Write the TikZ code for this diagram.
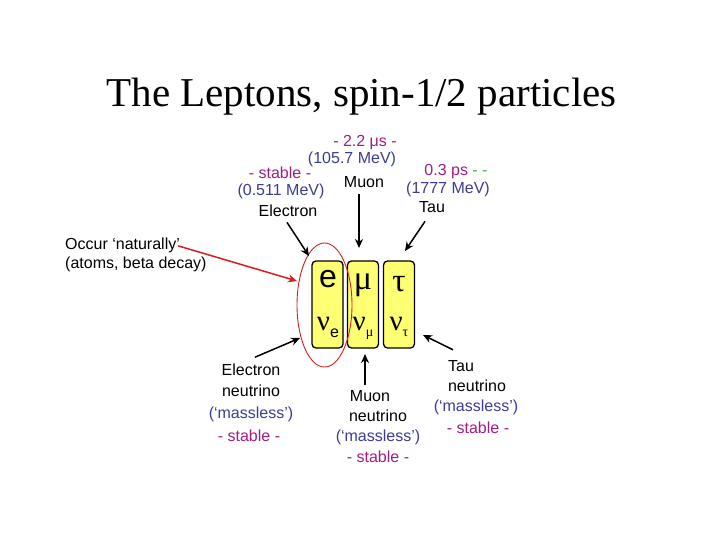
\documentclass[tikz,border=0pt]{standalone}
\usepackage{fontspec}
\setmainfont{Liberation Serif}
\setsansfont{Liberation Sans}
\usetikzlibrary{arrows.meta}
\definecolor{lifetime}{RGB}{160,30,130}
\definecolor{massblue}{RGB}{60,60,150}
\definecolor{dashgreen}{RGB}{70,170,70}
\definecolor{boxyellow}{RGB}{255,255,115}
\definecolor{natred}{RGB}{215,30,30}

\begin{document}
\begin{tikzpicture}[x=1pt,y=-1pt,
    lbl/.style={font=\sffamily\fontsize{16}{16}\selectfont, inner sep=0pt, anchor=base},
    lbllife/.style={lbl, text=lifetime},
    lblmass/.style={lbl, text=massblue},
    leptbox/.style={draw, line width=1.3pt, fill=boxyellow, rounded corners=4pt,
      minimum width=31pt, minimum height=87pt, inner sep=0pt},
    pointer/.style={line width=1.5pt, -{Stealth[length=9pt,width=8pt]}}]
  \useasboundingbox (0,0) rectangle (720,540);
  % title
  \node[font=\fontsize{41}{41}\selectfont, inner sep=0pt, anchor=base] (title)
    at (361.5,107) {The Leptons, spin-1/2 particles};
  % the three generations
  \node[leptbox] (boxe) at (327.5,304.5) {};
  \node[leptbox] (boxmu) at (363,304.5) {};
  \node[leptbox] (boxtau) at (399,304.5) {};
  \node[font=\sffamily\fontsize{32}{32}\selectfont, inner sep=0pt, anchor=base] (el) at (328,287) {e};
  \node[font=\fontsize{34}{34}\selectfont, inner sep=0pt, anchor=base] (mu) at (363,289) {μ};
  \node[font=\fontsize{33}{33}\selectfont, inner sep=0pt, anchor=base] (tau) at (399,291) {τ};
  \node[font=\fontsize{29}{29}\selectfont, inner sep=0pt, anchor=base] (nue) at (328,330)
    {ν\raisebox{-7pt}{\sffamily\fontsize{16}{16}\selectfont e}};
  \node[font=\fontsize{29}{29}\selectfont, inner sep=0pt, anchor=base] (numu) at (363,330)
    {ν\raisebox{-6pt}{\fontsize{14}{14}\selectfont μ}};
  \node[font=\fontsize{29}{29}\selectfont, inner sep=0pt, anchor=base] (nutau) at (399,330)
    {ν\raisebox{-6pt}{\fontsize{14}{14}\selectfont τ}};
  % naturally occurring pair
  \draw[natred, line width=0.9pt] (324.5,305) ellipse (27.5 and 62);
  % charged leptons
  \node[lbllife] (elife) at (280,179) {- stable -};
  \node[lblmass] (emass) at (281,196) {(0.511 MeV)};
  \node[lbl] (ename) at (288,216) {Electron};
  \node[lbllife] (mulife) at (365,147) {- 2.2 μs -};
  \node[lblmass] (mumass) at (352,164) {(105.7 MeV)};
  \node[lbl] (muname) at (364,188) {Muon};
  \node[lbllife] (taulife) at (456,176) {0.3 ps \textcolor{dashgreen}{- -}};
  \node[lblmass] (taumass) at (448,194) {(1777 MeV)};
  \node[lbl] (tauname) at (432,213) {Tau};
  \node[lbl, anchor=base west] (occur) at (65,249) {Occur ‘naturally’};
  \node[lbl, anchor=base west] (atoms) at (65,268) {(atoms, beta decay)};
  % neutrinos
  \node[lbl] (nuename) at (251,375) {Electron};
  \node[lbl] (nuename2) at (251,396) {neutrino};
  \node[lblmass] (nuemass) at (251,418) {(‘massless’)};
  \node[lbllife] (nuelife) at (249,441) {- stable -};
  \node[lbl] (numuname) at (370,401) {Muon};
  \node[lbl] (numuname2) at (378,421) {neutrino};
  \node[lblmass] (numumass) at (378,441) {(‘massless’)};
  \node[lbllife] (numulife) at (378,462) {- stable -};
  \node[lbl] (nutauname) at (461,371) {Tau};
  \node[lbl] (nutauname2) at (477,391) {neutrino};
  \node[lblmass] (nutaumass) at (476,411) {(‘massless’)};
  \node[lbllife] (nutaulife) at (478,433) {- stable -};
  % pointers
  \coordinate (etip) at (309,256);
  \coordinate (mutip) at (359,248);
  \coordinate (tautip) at (405,251);
  \coordinate (ringtip) at (297,281);
  \coordinate (nuetip) at (300,338);
  \coordinate (numutip) at (365,354);
  \coordinate (nutautip) at (423,335);
  \draw[pointer] ([xshift=-1pt,yshift=-6pt]ename.south) -- (etip);
  \draw[pointer] ([xshift=-5pt,yshift=-6pt]muname.south) -- (mutip);
  \draw[pointer] ([xshift=-7pt,yshift=-8pt]tauname.south) -- (tautip);
  \draw[pointer, natred] ([xshift=-2pt,yshift=-1pt]occur.east) -- (ringtip);
  \draw[pointer] ([xshift=4pt,yshift=6pt]nuename.north) -- (nuetip);
  \draw[pointer] ([xshift=-5pt,yshift=5pt]numuname.north) -- (numutip);
  \draw[pointer] ([xshift=-8pt,yshift=10pt]nutauname.north) -- (nutautip);
\end{tikzpicture}
\end{document}
